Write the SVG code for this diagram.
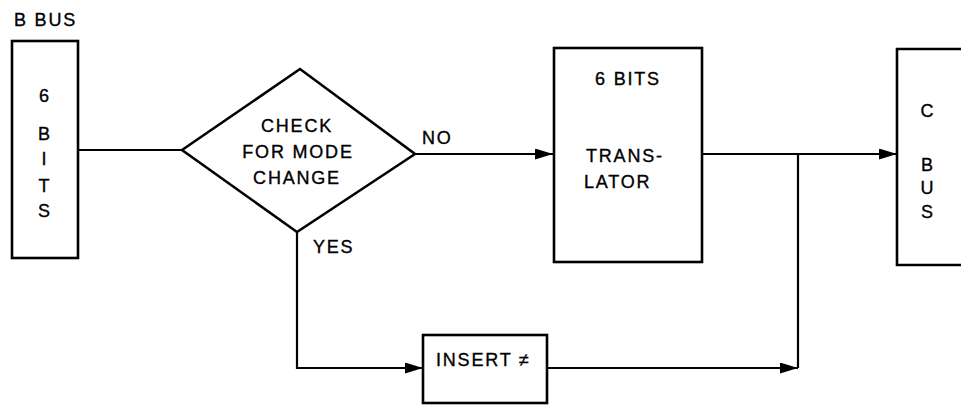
<svg xmlns="http://www.w3.org/2000/svg" width="961" height="405" viewBox="0 0 961 405">
<defs>
<style>
.box{fill:#fff;stroke:#000;stroke-width:2.6}
.ln{fill:none;stroke:#000;stroke-width:2.2}
text{font-family:"Liberation Sans",Arial,sans-serif;font-size:18px;letter-spacing:1.8px;fill:#000;stroke:#000;stroke-width:0.35}
.c{text-anchor:middle}
</style>
<marker id="ah" viewBox="0 0 18 11" refX="18" refY="5.5" markerWidth="18" markerHeight="11" markerUnits="userSpaceOnUse" orient="auto">
<path d="M0,0 L18,5.5 L0,11 Z" fill="#000"/>
</marker>
</defs>
<rect width="961" height="405" fill="#fff"/>
<g id="connectors">
<path class="ln" d="M78,150 H182"/>
<path class="ln" d="M415,154 H553" marker-end="url(#ah)"/>
<path class="ln" d="M702,154 H897" marker-end="url(#ah)"/>
<path class="ln" d="M297,232 V368 H423" marker-end="url(#ah)"/>
<path class="ln" d="M547,368 H798" marker-end="url(#ah)"/>
<path class="ln" d="M798,154 V368"/>
</g>
<g id="bbus">
<text x="14" y="26">B BUS</text>
<rect class="box" x="12" y="41" width="66" height="217"/>
<text class="c" x="45" y="102">6</text>
<text class="c" x="45" y="140">B</text>
<text class="c" x="45" y="165">I</text>
<text class="c" x="45" y="192">T</text>
<text class="c" x="45" y="217">S</text>
</g>
<g id="check">
<polygon class="box" points="182,150 300,69 415,154 297,232"/>
<text class="c" x="297" y="132">CHECK</text>
<text class="c" x="298" y="158">FOR MODE</text>
<text class="c" x="297" y="184">CHANGE</text>
<text x="422" y="144">NO</text>
<text x="313" y="253">YES</text>
</g>
<g id="translator">
<rect class="box" x="554" y="48" width="148" height="214"/>
<text class="c" x="628" y="85">6 BITS</text>
<text x="586" y="162">TRANS-</text>
<text x="584" y="188">LATOR</text>
</g>
<g id="insert">
<rect class="box" x="423" y="335" width="124" height="68"/>
<text x="436" y="366">INSERT ≠</text>
</g>
<g id="cbus">
<path class="box" d="M965,49 H897 V265 H965"/>
<text class="c" x="928" y="117">C</text>
<text class="c" x="928" y="171">B</text>
<text class="c" x="928" y="194">U</text>
<text class="c" x="928" y="218">S</text>
</g>
</svg>
